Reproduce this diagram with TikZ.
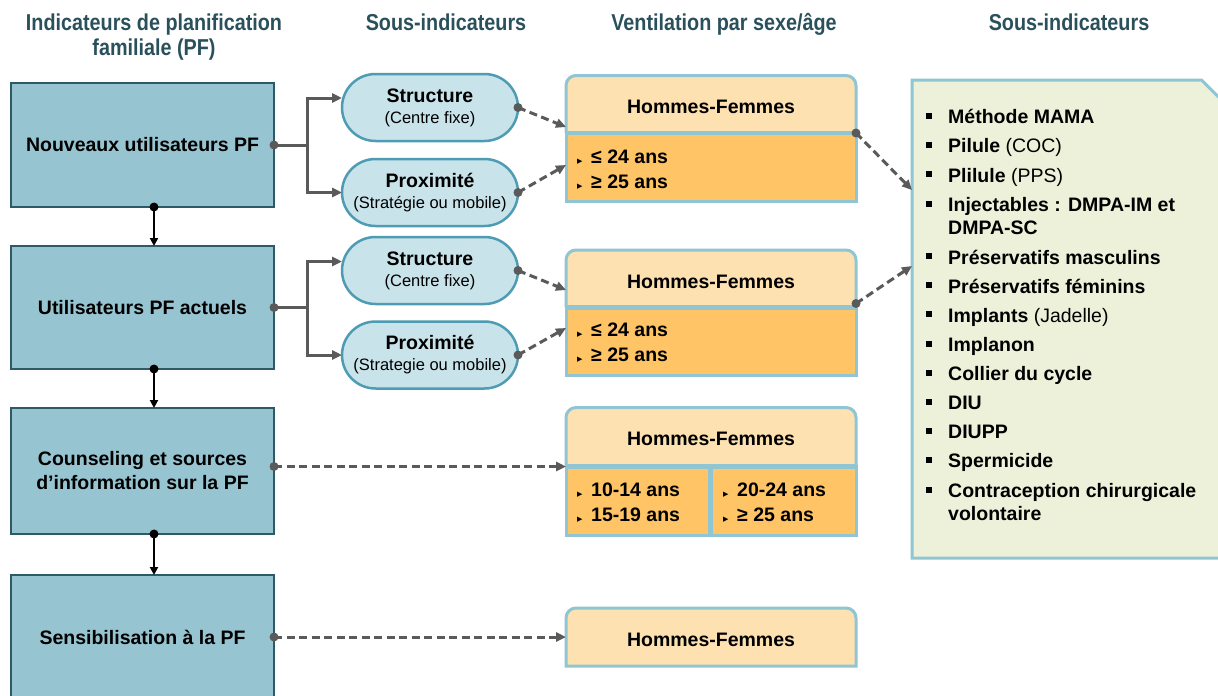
\documentclass[tikz,border=0pt]{standalone}
\usepackage{fontspec}
\setmainfont{Liberation Sans}
\newfontfamily\djv{DejaVu Sans}
\usepackage{graphicx}
\usetikzlibrary{arrows.meta,shapes.misc}
\definecolor{lbfill}{HTML}{97C4D1}
\definecolor{lbdraw}{HTML}{2E5A68}
\definecolor{hdtext}{HTML}{2A505C}
\definecolor{pillfill}{HTML}{C9E3EB}
\definecolor{pilldraw}{HTML}{4E9CB3}
\definecolor{hfhead}{HTML}{FDE1B1}
\definecolor{hfbody}{HTML}{FEC466}
\definecolor{hfline}{HTML}{90C5D3}
\definecolor{panelfill}{HTML}{EEF1DA}
\definecolor{conncol}{HTML}{5A5A5A}
\newcommand\nar[1]{\scalebox{0.86}[1]{#1}}
\newcommand\tri{\makebox[14pt][l]{\djv\fontsize{7}{7}\selectfont ▶}}
\begin{document}
\begin{tikzpicture}[x=1pt,y=-1pt,
  hdr/.style={font=\fontsize{23}{25}\selectfont\bfseries, text=hdtext, inner sep=0, anchor=base},
  lbox/.style={rectangle, fill=lbfill, draw=lbdraw, line width=2pt, outer sep=0,
    minimum width=263pt, align=center, inner sep=0,
    font=\fontsize{19.5}{24}\selectfont\bfseries},
  pill/.style={rounded rectangle, fill=pillfill, draw=pilldraw, line width=2.5pt, outer sep=0,
    minimum width=176pt, minimum height=67pt, align=center, inner sep=0,
    font=\fontsize{16.5}{21}\selectfont},
  hfhd/.style={fill=hfhead, draw=hfline, line width=3pt, rounded corners=10pt},
  hfbd/.style={rectangle, fill=hfbody, draw=hfline, line width=3pt, outer sep=0,
    minimum width=290pt, inner sep=0},
  hftxt/.style={anchor=base, inner sep=0, font=\fontsize{19.5}{24}\selectfont\bfseries},
  age/.style={anchor=base west, inner sep=0, font=\fontsize{19.5}{24}\selectfont\bfseries},
  ltxt/.style={anchor=base west, inner sep=0, font=\fontsize{19.5}{24}\selectfont},
  lsq/.style={fill=black, minimum size=6pt, inner sep=0, outer sep=0},
  gconn/.style={draw=conncol, line width=3pt, -{Triangle[length=10pt,width=9pt]}},
  dconn/.style={draw=conncol, line width=3pt, dash pattern=on 8pt off 4.5pt,
    -{Triangle[length=10pt,width=9pt]}},
  vconn/.style={draw=black, line width=2.5pt, -{Triangle[length=8pt,width=8pt]}},
  gdot/.style={fill=conncol},
]
\clip (0,0) rectangle (1218,696);
\fill[white] (0,0) rectangle (1218,696);

% headers
\node[hdr] (t1a) at (154,30) {\nar{Indicateurs de planification}};
\node[hdr] (t1b) at (154,55) {\nar{familiale (PF)}};
\node[hdr] (t2) at (446,30) {\nar{Sous-indicateurs}};
\node[hdr] (t3) at (724,30) {\nar{Ventilation par sexe/âge}};
\node[hdr] (t4) at (1069,30) {\nar{Sous-indicateurs}};

% left boxes
\node[lbox, minimum height=124pt] (b1) at (142.5,145) {Nouveaux utilisateurs PF};
\node[lbox, minimum height=123pt] (b2) at (142.5,307.5) {Utilisateurs PF actuels};
\node[lbox, minimum height=126pt] (b3) at (142.5,471) {Counseling et sources\\d’information sur la PF};
\node[lbox, minimum height=124pt] (b4) at (142.5,637) {Sensibilisation à la PF};

% vertical arrows
\draw[vconn] ([xshift=11.5pt]b1.south) -- ([xshift=11.5pt]b2.north);
\draw[vconn] ([xshift=11.5pt]b2.south) -- ([xshift=11.5pt]b3.north);
\draw[vconn] ([xshift=11.5pt]b3.south) -- ([xshift=11.5pt]b4.north);
\fill[black] ([xshift=11.5pt]b1.south) circle (4.5pt);
\fill[black] ([xshift=11.5pt]b2.south) circle (4.5pt);
\fill[black] ([xshift=11.5pt]b3.south) circle (4.5pt);

% pills
\node[pill] (s1) at (430,107.5) {{\fontsize{19.5}{21}\selectfont\bfseries Structure}\\(Centre fixe)};
\node[pill] (p1) at (430,192.5) {{\fontsize{19.5}{21}\selectfont\bfseries Proximité}\\(Stratégie ou mobile)};
\node[pill] (s2) at (430,270.5) {{\fontsize{19.5}{21}\selectfont\bfseries Structure}\\(Centre fixe)};
\node[pill] (p2) at (430,355) {{\fontsize{19.5}{21}\selectfont\bfseries Proximité}\\(Strategie ou mobile)};

% branch connectors
\draw[gconn] (b1.east) -- ++(33,0) |- ([yshift=9.5pt]s1.west);
\draw[gconn] (b1.east) -- ++(33,0) |- (p1.west);
\fill[gdot] (b1.east) circle (4.5pt);
\draw[gconn] (b2.east) -- ++(33,0) |- ([yshift=9pt]s2.west);
\draw[gconn] (b2.east) -- ++(33,0) |- (p2.west);
\fill[gdot] (b2.east) circle (4.5pt);

% HF box A
\path[hfhd] (566,133) -- (566,75.5) -- (856,75.5) -- (856,133);
\node[hfbd, minimum height=68.5pt] (bA) at (711,167.25) {};
\draw[hfline, line width=4.5pt] (bA.north west) -- (bA.north east);
\node[hftxt] (hA) at (711,113.5) {Hommes-Femmes};
\node[age] (a1) at (577,163) {\tri≤ 24 ans};
\node[age] (a2) at (577,188) {\tri≥ 25 ans};

% HF box B
\path[hfhd] (566,307.5) -- (566,250) -- (856,250) -- (856,307.5);
\node[hfbd, minimum height=67.5pt] (bB) at (711,341.25) {};
\draw[hfline, line width=4.5pt] (bB.north west) -- (bB.north east);
\node[hftxt] (hB) at (711,288) {Hommes-Femmes};
\node[age] (a3) at (577,336.5) {\tri≤ 24 ans};
\node[age] (a4) at (577,361.5) {\tri≥ 25 ans};

% HF box C
\path[hfhd] (566,466.5) -- (566,407.5) -- (856,407.5) -- (856,466.5);
\node[hfbd, minimum height=68.5pt] (bC) at (711,500.75) {};
\draw[hfline, line width=4.5pt] (bC.north west) -- (bC.north east);
\draw[hfline, line width=4.5pt] (710.5,466.5) -- (710.5,535);
\node[hftxt] (hC) at (711,445.5) {Hommes-Femmes};
\node[age] (a5) at (577,496.5) {\tri10-14 ans};
\node[age] (a6) at (577,521.5) {\tri15-19 ans};
\node[age] (a7) at (723,496.5) {\tri20-24 ans};
\node[age] (a8) at (723,521.5) {\tri≥ 25 ans};

% HF box D
\path[hfhd] (566,666) -- (566,608) -- (856,608) -- (856,640) [sharp corners] -- (856,666) -- cycle;
\node[minimum width=290pt, minimum height=58pt, inner sep=0, outer sep=0] (bD) at (711,637) {};
\node[hftxt] (hD) at (711,646) {Hommes-Femmes};

% right panel
\path[fill=panelfill, draw=hfline, line width=3pt] (912,80) -- (1201.5,80) -- (1240,118.5) -- (1240,558) -- (912,558) -- cycle;
\coordinate (pa) at (912,190);
\coordinate (pb) at (912,266);

\foreach \n/\y/\t in {
  l1/123.5/{\textbf{Méthode MAMA}},
  l2/152.5/{\textbf{Pilule} (COC)},
  l3/182/{\textbf{Plilule} (PPS)},
  l4/211.5/{\textbf{Injectables : DMPA-IM et}},
  l5/264/{\textbf{Préservatifs masculins}},
  l6/293/{\textbf{Préservatifs féminins}},
  l7/322/{\textbf{Implants} (Jadelle)},
  l8/351.5/{\textbf{Implanon}},
  l9/380.5/{\textbf{Collier du cycle}},
  l10/409.5/{\textbf{DIU}},
  l11/438.5/{\textbf{DIUPP}},
  l12/467.5/{\textbf{Spermicide}},
  l13/497.5/{\textbf{Contraception chirurgicale}}}{
  \node[lsq] (\n q) at (929,\y-8) {};
  \node[ltxt] (\n) at (948,\y) {\t};
}
\node[ltxt] (l4b) at (948,234) {\textbf{DMPA-SC}};
\node[ltxt] (l13b) at (948,520.5) {\textbf{volontaire}};

% dashed connectors
\draw[dconn] (s1.east) -- ([yshift=6pt]bA.north west);
\fill[gdot] (s1.east) circle (4.5pt);
\draw[dconn] (p1.east) -- ([yshift=-32pt]bA.north west);
\fill[gdot] (p1.east) circle (4.5pt);
\draw[dconn] (s2.east) -- ([yshift=17.5pt]bB.north west);
\fill[gdot] (s2.east) circle (4.5pt);
\draw[dconn] (p2.east) -- ([yshift=-20.5pt]bB.north west);
\fill[gdot] (p2.east) circle (4.5pt);
\draw[dconn] (bA.north east) -- (pa);
\fill[gdot] (bA.north east) circle (4.5pt);
\draw[dconn] ([yshift=4pt]bB.north east) -- (pb);
\fill[gdot] ([yshift=4pt]bB.north east) circle (4.5pt);
\draw[dconn] (b3.east |- bC.north west) -- (bC.north west);
\fill[gdot] (b3.east |- bC.north west) circle (4.5pt);
\draw[dconn] (b4.east) -- (bD.west);
\fill[gdot] (b4.east) circle (4.5pt);
\end{tikzpicture}
\end{document}
